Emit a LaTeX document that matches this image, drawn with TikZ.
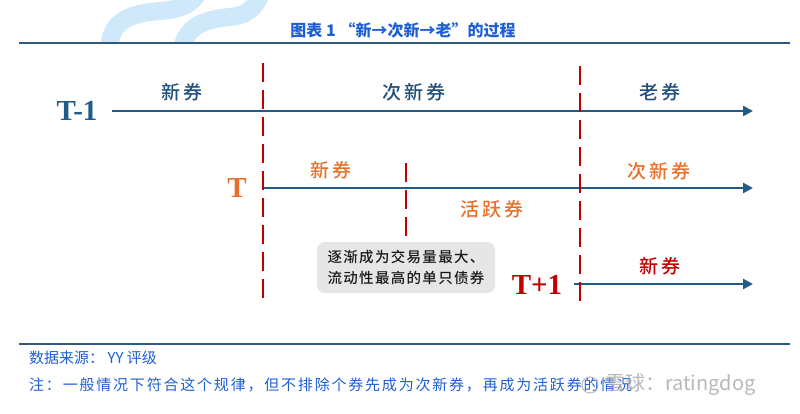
\documentclass[tikz,border=0pt]{standalone}
\usepackage{fontspec}
\setmainfont{Liberation Serif}
\newfontfamily\cjk{Noto Sans CJK SC}
\newfontfamily\cjkls{Noto Sans CJK SC}[UprightFont=* Medium, LetterSpace=15]
\newfontfamily\cjkbox{Noto Sans CJK SC}[UprightFont=* Medium, LetterSpace=9]
\newfontfamily\cjknote{Noto Sans CJK SC}[LetterSpace=12]
\usetikzlibrary{arrows.meta}
\definecolor{navy}{HTML}{1F5C87}
\definecolor{lblblue}{HTML}{1F4E79}
\definecolor{orng}{HTML}{E8702A}
\definecolor{dred}{HTML}{C00000}
\definecolor{ttlblue}{HTML}{1F5FD4}
\definecolor{rulecol}{HTML}{2E5A82}
\definecolor{swirl}{HTML}{CFE9FB}
\definecolor{boxgray}{HTML}{E6E6E6}
\begin{document}
\begin{tikzpicture}[x=1pt,y=-1pt,
  timeline/.style={line width=2.5pt, draw=navy, -{Triangle[length=10pt,width=10pt]}},
  divider/.style={line width=2.5pt, draw=dred, dash pattern=on 19pt off 8pt},
  lbl/.style={font=\cjkls\fontsize{19}{19}\selectfont, inner sep=0pt},
  tlabel/.style={font=\bfseries\fontsize{29}{29}\selectfont, inner sep=0pt},
  ruleline/.style={draw=rulecol, line width=1.5pt},
  foot/.style={anchor=west, inner sep=0pt, text=ttlblue, font=\cjk\fontsize{15}{15}\selectfont}]
\useasboundingbox (0,0) rectangle (800,413);
% background swirl
\begin{scope}
\clip (0,0) rectangle (800,43);
\draw[swirl, line width=18pt] (110,50) .. controls (108,22) and (130,13) .. (160,11) .. controls (185,9) and (195,2) .. (200,-12);
\draw[swirl, line width=18pt] (182,50) .. controls (185,26) and (205,19) .. (230,17) .. controls (250,15) and (258,5) .. (262,-12);
\end{scope}
% title and rules
\node[inner sep=0pt, text=ttlblue, font=\cjk\bfseries\fontsize{16}{16}\selectfont] (title) at (403,30) {图表 1 “新→次新→老”的过程};
\draw[ruleline] (19,43) -- (790,43);
\draw[ruleline] (19,344) -- (790,344);
% timelines
\coordinate (a0) at (112,111); \coordinate (a1) at (753,111);
\coordinate (b0) at (263,188); \coordinate (b1) at (753,188);
\coordinate (c0) at (574,284); \coordinate (c1) at (753,284);
\draw[timeline] (a0) -- (a1);
\draw[timeline] (b0) -- (b1);
\draw[timeline] (c0) -- (c1);
% dividers
\coordinate (d1t) at (263,63); \coordinate (d1b) at (263,300);
\coordinate (d2t) at (580,66); \coordinate (d2b) at (580,303);
\coordinate (d3t) at (406,163); \coordinate (d3b) at (406,237);
\draw[divider] (d1t) -- (d1b);
\draw[divider] (d2t) -- (d2b);
\draw[divider] (d3t) -- (d3b);
% row labels
\node[tlabel, text=navy] (tm1) at (77,111) {T-1};
\node[tlabel, text=orng] (t0) at (237,188) {T};
\node[tlabel, text=dred] (tp1) at (537,285) {T+1};
% period labels
\node[lbl, text=lblblue] (l1) at (182,92) {新券};
\node[lbl, text=lblblue] (l2) at (414,92) {次新券};
\node[lbl, text=lblblue] (l3) at (660,92) {老券};
\node[lbl, text=orng] (m1) at (331,170) {新券};
\node[lbl, text=orng] (m2) at (659,171) {次新券};
\node[lbl, text=orng] (m3) at (492,209) {活跃券};
\node[lbl, text=dred] (n1) at (660,266) {新券};
% note box
\node[fill=boxgray, rounded corners=8pt, minimum width=178pt, minimum height=51pt, inner sep=0pt, align=center, text=black!90, font=\cjkbox\fontsize{14.5}{21.5}\selectfont] (box) at (406,267.5) {逐渐成为交易量最大、\\流动性最高的单只债券};
% footer
\node[foot] (src) at (29,358) {数据来源： YY 评级};
\node[foot, font=\cjknote\fontsize{15}{15}\selectfont] (note) at (29,385) {注：一般情况下符合这个规律，但不排除个券先成为次新券，再成为活跃券的情况};
% watermark
\node[draw=gray!60, line width=1.2pt, circle, minimum size=16pt, inner sep=0pt, opacity=0.8] (wlogo) at (590,385) {};
\node[anchor=west, inner sep=0pt, text=gray!65, opacity=0.85, font=\cjk\fontsize{20}{20}\selectfont] (wm) at (605,385) {雪球：ratingdog};
\end{tikzpicture}
\end{document}
